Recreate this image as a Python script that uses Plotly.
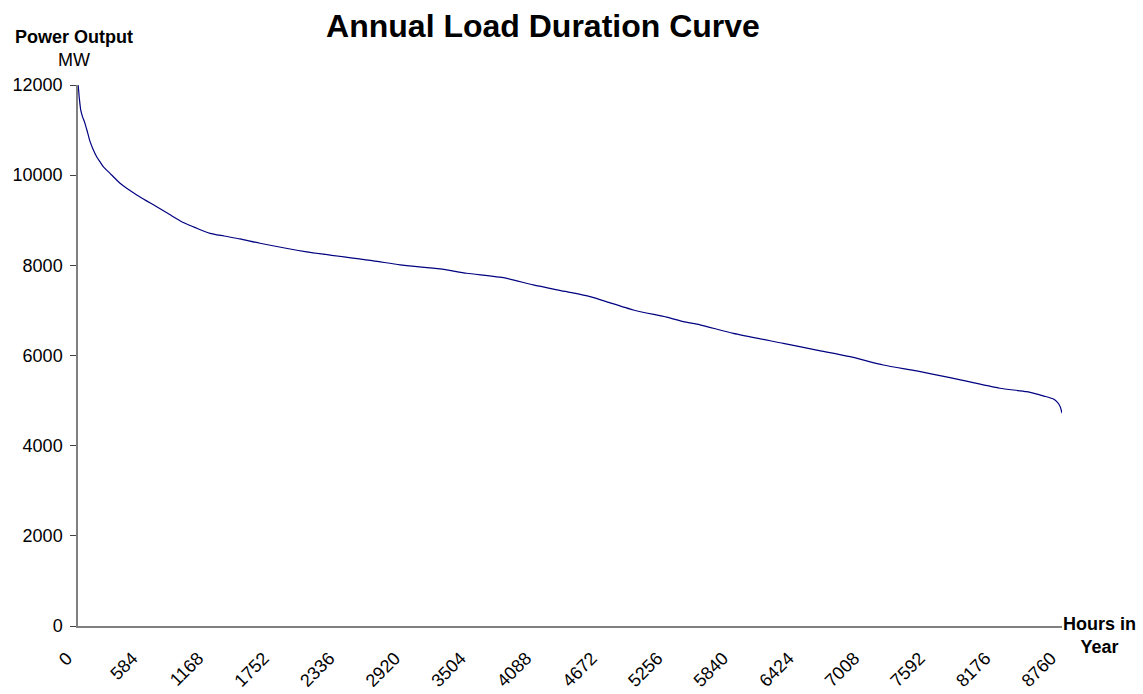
import plotly.graph_objects as go

# Load duration curve (hours sorted by load)
hours = [0, 3, 12, 24, 40, 62, 85, 107, 135, 166, 195, 225, 285, 374, 450, 523, 610, 701,
         820, 937, 1050, 1175, 1300, 1442, 1620, 2036, 2629, 2867, 3223, 3460, 3800,
         4053, 4350, 4558, 4944, 5241, 5389, 5537, 5834, 6279, 6576, 6873, 7169,
         7466, 7763, 8207, 8445, 8600, 8680, 8720, 8745, 8760]
power_mw = [12000, 11950, 11700, 11450, 11300, 11150, 10950, 10750, 10570, 10410,
            10300, 10190, 10040, 9820, 9680, 9560, 9430, 9300, 9120, 8950, 8830, 8710,
            8650, 8585, 8490, 8300, 8100, 8010, 7920, 7825, 7720, 7565, 7415, 7305,
            7010, 6850, 6750, 6680, 6490, 6270, 6120, 5975, 5790, 5657, 5510, 5273,
            5198, 5100, 5040, 4960, 4860, 4720]

x_ticks = list(range(0, 8761, 584))
y_ticks = [0, 2000, 4000, 6000, 8000, 10000, 12000]

FONT = "Arial, Liberation Sans, sans-serif"

W, H = 1143, 694
L, R, T, B = 78, 81, 85, 68
pw, ph = W - L - R, H - T - B


def pix(x, y):
    # figure pixel -> paper coordinates
    return (x - L) / pw, 1 - (y - T) / ph


fig = go.Figure()
fig.add_trace(go.Scatter(
    x=hours,
    y=power_mw,
    mode='lines',
    line=dict(color='#000080', width=1.2, shape='spline', smoothing=0.6),
    cliponaxis=False,
    showlegend=False
))

annots = []
for text, x, y in [("<b>Power Output</b>", 74, 37),
                   ("MW", 74, 60),
                   ("<b>Hours in<br>Year</b>", 1099, 635)]:
    ax, ay = pix(x, y)
    annots.append(dict(text=text, x=ax, y=ay, xref='paper', yref='paper',
                       xanchor='center', yanchor='middle', showarrow=False,
                       font=dict(size=18)))

fig.update_layout(
    width=W,
    height=H,
    margin=dict(l=L, r=R, t=T, b=B, autoexpand=False),
    paper_bgcolor='white',
    plot_bgcolor='white',
    font=dict(family=FONT, size=18, color='black'),
    title=dict(
        text="<b>Annual Load Duration Curve</b>",
        font=dict(family=FONT, size=32, color='black'),
        x=543 / W, xanchor='center', xref='container',
        y=1 - 15 / H, yanchor='top', yref='container'
    ),
    xaxis=dict(
        range=[0, 8760],
        tickmode='array',
        tickvals=x_ticks,
        ticktext=[str(t) for t in x_ticks],
        tickangle=-45,
        ticks='',
        showgrid=False,
        zeroline=False,
        showline=True,
        linecolor='#808080',
        linewidth=1.5,
        ticklabelstandoff=13,
        ticklabelshift=-11,
        tickfont=dict(size=18)
    ),
    yaxis=dict(
        range=[0, 12000],
        tickmode='array',
        tickvals=y_ticks,
        ticktext=[str(t) for t in y_ticks],
        ticks='outside',
        ticklen=6,
        tickcolor='#404040',
        showgrid=False,
        zeroline=False,
        showline=True,
        linecolor='#808080',
        linewidth=1.5,
        ticklabelstandoff=4,
        tickfont=dict(size=18)
    ),
    annotations=annots
)

fig.write_html("out.html", config={'displayModeBar': False},
               post_script="document.body.style.margin='0';")
